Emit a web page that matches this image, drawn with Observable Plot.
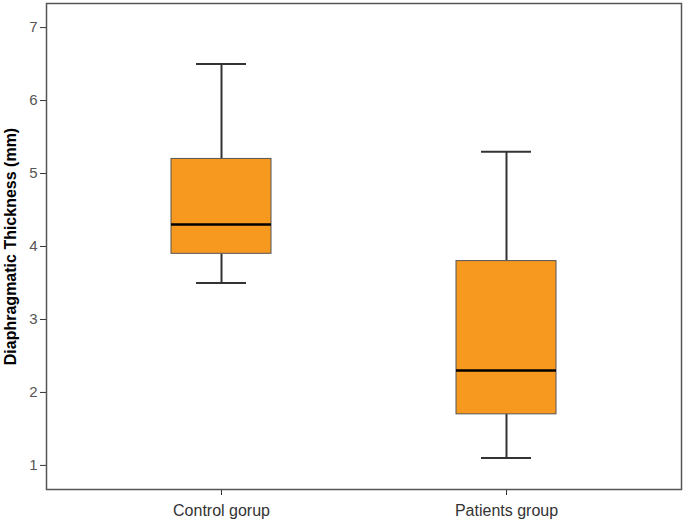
<!DOCTYPE html>
<html>
<head>
<meta charset="utf-8">
<script src="https://cdn.jsdelivr.net/npm/d3@7"></script>
<script src="https://cdn.jsdelivr.net/npm/@observablehq/plot@0.6"></script>
<style>
  html, body { margin: 0; padding: 0; background: #fff; }
  #chart svg { display: block; }
  #chart g[aria-label="y-axis label"] text { font-weight: bold; fill: #000; font-size: 16px; }
  #chart g[aria-label="y-axis tick label"] text { font-size: 15px; }
  #chart g[aria-label="x-axis tick label"] text { font-size: 16px; }
</style>
</head>
<body>
<div id="chart"></div>
<script>
const groups = ["Control gorup", "Patients group"];
const mins = [3.5, 1.1];
const q1s = [3.9, 1.7];
const medians = [4.3, 2.3];
const q3s = [5.2, 3.8];
const maxs = [6.5, 5.3];
const yTicks = [1, 2, 3, 4, 5, 6, 7];

const data = groups.map((g, i) => ({
  group: g, min: mins[i], q1: q1s[i], median: medians[i], q3: q3s[i], max: maxs[i]
}));

const chart = Plot.plot({
  width: 685,
  height: 521,
  marginLeft: 46,
  marginRight: 4,
  marginTop: 3,
  marginBottom: 32,
  style: { fontFamily: "'Liberation Sans', Arial, sans-serif", fontSize: "14px", color: "#333", background: "#fff" },
  x: { type: "band", domain: groups, paddingInner: 0.65, paddingOuter: 0.437, label: null },
  y: { domain: [0.67, 7.33], label: "Diaphragmatic Thickness (mm)" },
  marks: [
    Plot.axisY({ ticks: yTicks, tickSize: 6, tickPadding: 3, tickFormat: d3.format("d"), label: "Diaphragmatic Thickness (mm)", labelAnchor: "center", labelArrow: "none", labelOffset: 42, color: "#555", stroke: "#333" }),
    Plot.axisX({ tickSize: 6, tickPadding: 9, label: null, color: "#333", stroke: "#333" }),
    Plot.ruleX(data, { x: "group", y1: "q3", y2: "max", stroke: "#333", strokeWidth: 2 }),
    Plot.ruleX(data, { x: "group", y1: "min", y2: "q1", stroke: "#333", strokeWidth: 2 }),
    Plot.tickY(data, { x: "group", y: "max", stroke: "#333", strokeWidth: 2, inset: 25 }),
    Plot.tickY(data, { x: "group", y: "min", stroke: "#333", strokeWidth: 2, inset: 25 }),
    Plot.barY(data, { x: "group", y1: "q1", y2: "q3", fill: "#f7981f", stroke: "#555", strokeWidth: 1 }),
    Plot.tickY(data, { x: "group", y: "median", stroke: "#000", strokeWidth: 2.5 }),
    Plot.frame({ stroke: "#555", strokeWidth: 1.5 })
  ]
});
document.getElementById("chart").appendChild(chart);
</script>
</body>
</html>
